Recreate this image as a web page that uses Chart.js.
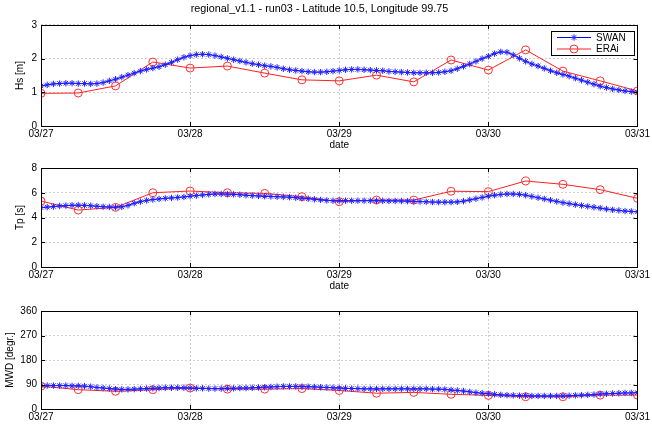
<!DOCTYPE html>
<html>
<head>
<meta charset="utf-8">
<script src="https://cdn.jsdelivr.net/npm/chart.js@4/dist/chart.umd.min.js"></script>
<style>
  body { margin: 0; background: #fff; }
  #wrap { position: relative; width: 652px; height: 424px; }
  canvas { position: absolute; left: 0; }
</style>
</head>
<body>
<div id="wrap">
  <canvas id="c1" width="652" height="152" style="top:0px"></canvas>
  <canvas id="c2" width="652" height="142" style="top:152px"></canvas>
  <canvas id="c3" width="652" height="130" style="top:294px"></canvas>
</div>
<script>
// x ticks (one per day, data is hourly for SWAN and 6-hourly for ERAi)
const tickLabels = ['03/27', '03/28', '03/29', '03/30', '03/31'];
const seriesNames = ['SWAN', 'ERAi'];

// SWAN, hourly from 03/27 00:00 to 03/31 00:00
const swanHs = [
  1.19, 1.22, 1.25, 1.26, 1.27, 1.27, 1.26, 1.26, 1.25, 1.26, 1.29, 1.34,
  1.39, 1.45, 1.51, 1.57, 1.63, 1.68, 1.72, 1.76, 1.82, 1.89, 1.97, 2.04,
  2.09, 2.12, 2.13, 2.12, 2.09, 2.05, 2.01, 1.97, 1.93, 1.89, 1.85, 1.82,
  1.79, 1.77, 1.74, 1.70, 1.67, 1.65, 1.63, 1.61, 1.60, 1.60, 1.61, 1.63,
  1.65, 1.67, 1.68, 1.68, 1.67, 1.66, 1.65, 1.64, 1.62, 1.61, 1.60, 1.59,
  1.58, 1.58, 1.58, 1.58, 1.59, 1.61, 1.64, 1.70, 1.77, 1.84, 1.92, 2.00,
  2.07, 2.15, 2.20, 2.19, 2.11, 2.01, 1.92, 1.84, 1.78, 1.71, 1.64, 1.58,
  1.53, 1.48, 1.42, 1.36, 1.30, 1.24, 1.18, 1.14, 1.10, 1.07, 1.04, 1.02,
  1.00
];
const swanTp = [
  4.80, 4.84, 4.88, 4.93, 4.96, 4.99, 5.00, 4.98, 4.95, 4.91, 4.87, 4.85,
  4.83, 4.86, 4.98, 5.15, 5.28, 5.38, 5.45, 5.50, 5.55, 5.58, 5.62, 5.66,
  5.72, 5.77, 5.82, 5.87, 5.90, 5.90, 5.89, 5.87, 5.84, 5.80, 5.77, 5.74,
  5.72, 5.70, 5.68, 5.66, 5.64, 5.60, 5.56, 5.52, 5.47, 5.42, 5.38, 5.36,
  5.36, 5.36, 5.36, 5.36, 5.36, 5.36, 5.35, 5.35, 5.34, 5.34, 5.33, 5.32,
  5.30, 5.29, 5.27, 5.25, 5.24, 5.24, 5.24, 5.26, 5.32, 5.42, 5.52, 5.62,
  5.72, 5.80, 5.86, 5.90, 5.90, 5.87, 5.80, 5.70, 5.60, 5.50, 5.40, 5.30,
  5.20, 5.12, 5.04, 4.97, 4.90, 4.83, 4.76, 4.68, 4.62, 4.57, 4.52, 4.49,
  4.46
];
const swanDir = [
  86, 86, 86, 86, 86, 85, 85, 84, 82, 79, 77, 75,
  73, 72, 72, 73, 74, 75, 76, 77, 78, 78, 78, 78,
  77, 76, 76, 75, 75, 75, 76, 76, 77, 77, 78, 79,
  80, 81, 82, 83, 83, 83, 82, 82, 81, 80, 79, 78,
  77, 76, 75, 75, 74, 74, 74, 74, 74, 74, 74, 74,
  74, 74, 74, 73, 73, 72, 70, 68, 66, 63, 60, 58,
  56, 54, 52, 51, 50, 49, 49, 48, 48, 48, 48, 48,
  48, 49, 50, 51, 52, 53, 55, 56, 57, 58, 59, 59,
  60
];

// ERAi, 6-hourly
const eraHs = [0.97, 0.98, 1.19, 1.90, 1.72, 1.78, 1.57, 1.37, 1.34, 1.51, 1.31, 1.96, 1.66, 2.26, 1.63, 1.34, 1.04];
const eraTp = [5.33, 4.60, 4.82, 6.00, 6.14, 6.00, 5.95, 5.68, 5.28, 5.41, 5.41, 6.12, 6.09, 6.95, 6.68, 6.25, 5.55];
const eraDir = [84, 71, 65, 71, 77, 73, 73, 75, 68, 58, 61, 54, 50, 45, 45, 51, 51];

const FONT = 'Liberation Sans, Arial, Helvetica, sans-serif';
Chart.defaults.font.family = FONT;
Chart.defaults.color = '#000';
Chart.defaults.animation = false;

const swanStyle = {
  borderColor: '#0000ff', borderWidth: 1,
  pointStyle: 'star', pointRadius: 3.2,
  pointBorderColor: '#2020ff', pointBorderWidth: 1,
  pointBackgroundColor: '#2020ff'
};
const eraStyle = {
  borderColor: '#ff2020', borderWidth: 1,
  pointStyle: 'circle', pointRadius: 4,
  pointBorderColor: '#ff3030', pointBorderWidth: 1,
  pointBackgroundColor: 'rgba(0,0,0,0)'
};

// matlab style box with inward ticks
const boxPlugin = {
  id: 'box',
  afterDatasetsDraw(chart) {
    const {ctx, chartArea: a, scales} = chart;
    ctx.save();
    ctx.strokeStyle = '#000';
    ctx.lineWidth = 1;
    ctx.beginPath();
    scales.y.ticks.forEach(t => {
      const py = Math.round(scales.y.getPixelForValue(t.value)) + 0.5;
      ctx.moveTo(a.left, py); ctx.lineTo(a.left + 4, py);
      ctx.moveTo(a.right, py); ctx.lineTo(a.right - 4, py);
    });
    scales.x.ticks.forEach(t => {
      const px = Math.round(scales.x.getPixelForValue(t.value)) + 0.5;
      ctx.moveTo(px, a.bottom); ctx.lineTo(px, a.bottom - 4);
      ctx.moveTo(px, a.top); ctx.lineTo(px, a.top + 4);
    });
    ctx.stroke();
    ctx.strokeRect(Math.round(a.left) + 0.5, Math.round(a.top) + 0.5,
      Math.round(a.right - a.left), Math.round(a.bottom - a.top));
    ctx.restore();
  }
};

// legend box in the upper right corner of the first panel
const legendPlugin = {
  id: 'boxLegend',
  afterDraw(chart) {
    const {ctx} = chart;
    const x0 = 551, y0 = 31, w = 83, h = 24;
    ctx.save();
    ctx.fillStyle = '#fff';
    ctx.fillRect(x0, y0, w, h);
    ctx.strokeStyle = '#000';
    ctx.lineWidth = 1;
    ctx.strokeRect(x0 + 0.5, y0 + 0.5, w, h);
    chart.data.datasets.forEach((ds, i) => {
      const yy = y0 + 6.5 + i * 11.5;
      ctx.strokeStyle = ds.borderColor;
      ctx.lineWidth = 1;
      ctx.beginPath();
      ctx.moveTo(x0 + 6, yy); ctx.lineTo(x0 + 40, yy);
      ctx.stroke();
      ctx.strokeStyle = ds.pointBorderColor;
      ctx.fillStyle = ds.pointBackgroundColor;
      Chart.helpers.drawPoint(ctx, {
        pointStyle: ds.pointStyle, radius: ds.pointRadius,
        borderWidth: ds.pointBorderWidth, rotation: 0
      }, x0 + 23, yy);
      ctx.fillStyle = '#000';
      ctx.font = '10px ' + FONT;
      ctx.textBaseline = 'middle';
      ctx.fillText(ds.label, x0 + 45, yy + 0.5);
    });
    ctx.restore();
  }
};

function makePanel(id, swan, era, opts) {
  const canvas = document.getElementById(id);
  const datasets = [
    Object.assign({label: seriesNames[0], data: swan.map((v, i) => ({x: i, y: v}))}, swanStyle),
    Object.assign({label: seriesNames[1], data: era.map((v, i) => ({x: i * 6, y: v}))}, eraStyle)
  ];
  const plugins = [boxPlugin];
  if (opts.legend) plugins.push(legendPlugin);
  return new Chart(canvas.getContext('2d'), {
    type: 'line',
    data: {datasets: datasets},
    plugins: plugins,
    options: {
      responsive: false,
      devicePixelRatio: 1,
      layout: {padding: {top: opts.padTop, right: 13, left: 0, bottom: 0}},
      plugins: {
        legend: {display: false},
        tooltip: {enabled: false},
        title: opts.title ? {
          display: true, text: opts.title, color: '#000',
          font: {size: 10.8, weight: 'normal'},
          padding: {top: 3, bottom: 9}
        } : {display: false}
      },
      scales: {
        x: {
          type: 'linear', min: 0, max: 96,
          ticks: {
            stepSize: 24, autoSkip: false, maxRotation: 0, padding: 2,
            font: {size: 10},
            callback: v => tickLabels[v / 24]
          },
          grid: {color: '#cfcfcf', drawTicks: false},
          border: {display: false, dash: [2, 2]},
          title: {
            display: !!opts.xTitle, text: opts.xTitle || '',
            font: {size: 10}, padding: {top: 0, bottom: opts.xTitlePad || 0}
          },
          afterFit: s => { s.height = opts.xHeight; }
        },
        y: {
          min: opts.min, max: opts.max,
          ticks: {stepSize: opts.step, padding: 4, font: {size: 10}},
          grid: {color: '#cfcfcf', drawTicks: false},
          border: {display: false, dash: [2, 2]},
          title: {
            display: true, text: opts.yTitle,
            font: {size: 10}, padding: {top: opts.yTitlePad, bottom: 0}
          },
          afterFit: s => { s.width = 41; }
        }
      }
    }
  });
}

makePanel('c1', swanHs, eraHs, {
  title: 'regional_v1.1 - run03 - Latitude 10.5, Longitude 99.75',
  padTop: 0, min: 0, max: 3, step: 1, yTitle: 'Hs [m]', yTitlePad: 14,
  xTitle: 'date', xTitlePad: 1, xHeight: 26, legend: true
});
makePanel('c2', swanTp, eraTp, {
  padTop: 16, min: 0, max: 8, step: 2, yTitle: 'Tp [s]', yTitlePad: 14,
  xTitle: 'date', xTitlePad: 2, xHeight: 27
});
makePanel('c3', swanDir, eraDir, {
  padTop: 17, min: 0, max: 360, step: 90, yTitle: 'MWD [degr.]', yTitlePad: 4,
  xHeight: 15
});
</script>
</body>
</html>
